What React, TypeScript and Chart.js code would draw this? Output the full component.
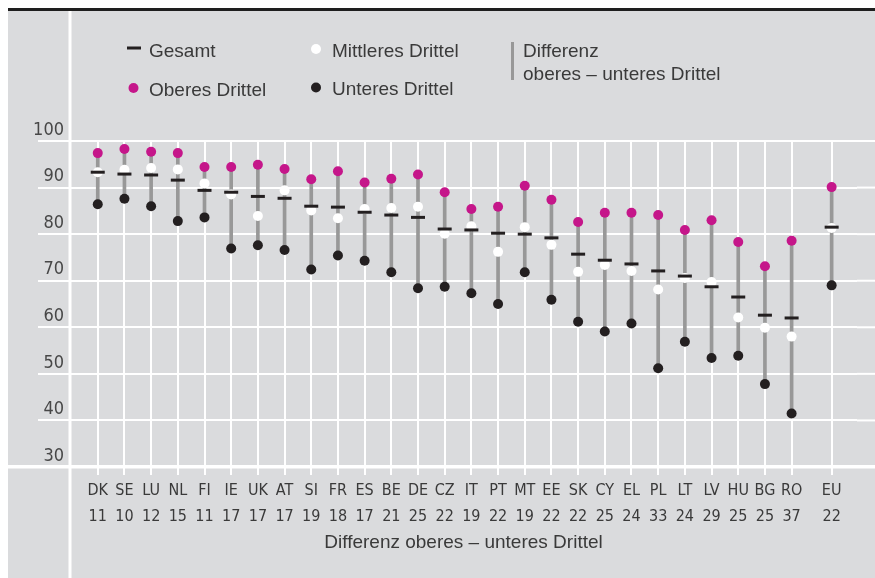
import React, { useEffect, useRef } from 'react';
import { Chart, registerables } from 'chart.js';

Chart.register(...registerables);

const countries = ['DK', 'SE', 'LU', 'NL', 'FI', 'IE', 'UK', 'AT', 'SI', 'FR', 'ES', 'BE', 'DE', 'CZ', 'IT', 'PT', 'MT', 'EE', 'SK', 'CY', 'EL', 'PL', 'LT', 'LV', 'HU', 'BG', 'RO', 'EU'];
const diffLabels = [11, 10, 12, 15, 11, 17, 17, 17, 19, 18, 17, 21, 25, 22, 19, 22, 19, 22, 22, 25, 24, 33, 24, 29, 25, 25, 37, 22];
const xPositions = [0, 1, 2, 3, 4, 5, 6, 7, 8, 9, 10, 11, 12, 13, 14, 15, 16, 17, 18, 19, 20, 21, 22, 23, 24, 25, 26, 27.5];
const oberes = [97.4, 98.3, 97.7, 97.4, 94.4, 94.4, 94.9, 94.0, 91.8, 93.5, 91.1, 91.9, 92.8, 89.0, 85.4, 85.9, 90.4, 87.4, 82.6, 84.6, 84.6, 84.1, 80.9, 83.0, 78.3, 73.1, 78.6, 90.1];
const mittleres = [93.3, 93.8, 94.2, 93.9, 90.9, 88.5, 83.9, 89.4, 85.1, 83.4, 85.4, 85.6, 85.9, 80.1, 81.7, 76.2, 81.5, 77.7, 71.9, 73.4, 72.1, 68.1, 70.6, 69.7, 62.1, 59.9, 58.0, 81.3];
const gesamt = [93.3, 92.9, 92.7, 91.6, 89.4, 89.0, 88.1, 87.7, 86.0, 85.8, 84.7, 84.1, 83.6, 81.1, 80.9, 80.2, 80.0, 79.2, 75.7, 74.4, 73.6, 72.1, 71.0, 68.7, 66.5, 62.6, 62.0, 81.5];
const unteres = [86.4, 87.6, 86.0, 82.8, 83.6, 76.9, 77.6, 76.6, 72.4, 75.4, 74.3, 71.8, 68.4, 68.7, 67.3, 65.0, 71.8, 65.9, 61.2, 59.1, 60.8, 51.2, 56.9, 53.4, 53.9, 47.8, 41.5, 69.0];
const yTicks = [30, 40, 50, 60, 70, 80, 90, 100];

const BG = '#dadbdd';
const MAGENTA = '#c5168a';
const DARK = '#231f20';
const LINEGRAY = '#989898';
const TEXT = '#3a3a3a';
const NARROW = "'Liberation Sans Narrow', 'DejaVu Sans Condensed', sans-serif";
const REGULAR = "'Liberation Sans', Arial, sans-serif";

const decorPlugin = {
  id: 'decor',
  beforeDraw(chart: any) {
    const { ctx, width, height } = chart;
    ctx.save();
    ctx.fillStyle = '#ffffff';
    ctx.fillRect(0, 0, width, height);
    ctx.fillStyle = BG;
    ctx.fillRect(8, 11, width - 8, height - 11);
    ctx.fillStyle = '#1e1e1e';
    ctx.fillRect(8, 8, width - 8, 3);
    ctx.restore();
  },
  beforeDatasetsDraw(chart: any) {
    const { ctx, width, height, chartArea, scales } = chart;
    const y = scales.y;
    ctx.save();
    ctx.fillStyle = '#ffffff';
    ctx.fillRect(chartArea.left - 1.5, 11, 3, height - 11);
    const yb = y.getPixelForValue(30);
    ctx.fillRect(8, yb - 2, width - 8, 3.5);
    for (const t of yTicks) {
      if (t > 30) {
        const py = y.getPixelForValue(t);
        ctx.fillRect(chartArea.right, py - 1, width - chartArea.right, 2);
      }
    }
    ctx.restore();
  },
  afterDraw(chart: any) {
    const { ctx } = chart;
    const dot = (x: number, y: number, c: string) => {
      ctx.beginPath();
      ctx.arc(x, y, 5, 0, Math.PI * 2);
      ctx.fillStyle = c;
      ctx.fill();
    };
    ctx.save();
    ctx.font = `19px ${REGULAR}`;
    ctx.textAlign = 'left';
    ctx.textBaseline = 'alphabetic';
    ctx.fillStyle = DARK;
    ctx.fillRect(127, 46.5, 14, 3);
    ctx.fillStyle = TEXT;
    ctx.fillText('Gesamt', 149, 56.5);
    dot(133.5, 88, MAGENTA);
    ctx.fillStyle = TEXT;
    ctx.fillText('Oberes Drittel', 149, 95.5);
    dot(316, 49, '#ffffff');
    ctx.fillStyle = TEXT;
    ctx.fillText('Mittleres Drittel', 332, 56.5);
    dot(316, 87.5, DARK);
    ctx.fillStyle = TEXT;
    ctx.fillText('Unteres Drittel', 332, 94.5);
    ctx.fillStyle = LINEGRAY;
    ctx.fillRect(511, 42, 3, 38);
    ctx.fillStyle = TEXT;
    ctx.fillText('Differenz', 523, 56.5);
    ctx.fillText('oberes – unteres Drittel', 523, 79.5);
    ctx.restore();
  },
};

export default function App() {
  const ref = useRef<HTMLCanvasElement | null>(null);

  useEffect(() => {
    if (!ref.current) return;
    const pts = (arr: number[]) => arr.map((v, i) => ({ x: xPositions[i], y: v }));
    const chart = new Chart(ref.current, {
      type: 'scatter',
      data: {
        datasets: [
          {
            type: 'bar',
            label: 'Differenz oberes – unteres Drittel',
            data: unteres.map((u, i) => ({ x: xPositions[i], y: [u, oberes[i]] })) as any,
            backgroundColor: LINEGRAY,
            borderWidth: 0,
            barThickness: 3,
            order: 5,
          } as any,
          {
            type: 'scatter',
            label: 'Oberes Drittel',
            data: pts(oberes),
            pointRadius: 5,
            pointBackgroundColor: MAGENTA,
            pointBorderWidth: 0,
            order: 4,
          },
          {
            type: 'scatter',
            label: 'Unteres Drittel',
            data: pts(unteres),
            pointRadius: 5,
            pointBackgroundColor: DARK,
            pointBorderWidth: 0,
            order: 3,
          },
          {
            type: 'scatter',
            label: 'Mittleres Drittel',
            data: pts(mittleres),
            pointRadius: 5,
            pointBackgroundColor: '#ffffff',
            pointBorderWidth: 0,
            order: 2,
          },
          {
            type: 'scatter',
            label: 'Gesamt',
            data: pts(gesamt),
            pointStyle: 'line',
            pointRadius: 7,
            pointBorderWidth: 3,
            pointBorderColor: DARK,
            pointBackgroundColor: DARK,
            order: 1,
          },
        ],
      },
      options: {
        responsive: false,
        animation: false,
        devicePixelRatio: 1,
        events: [],
        layout: { padding: { top: 141, right: 18, bottom: 0, left: 0 } },
        plugins: {
          legend: { display: false },
          tooltip: { enabled: false },
        },
        scales: {
          x: {
            type: 'linear',
            min: -1.04,
            max: 28.45,
            offset: false,
            grid: { color: '#ffffff', lineWidth: 2, drawTicks: true, tickLength: 8, offset: false },
            border: { display: false },
            afterBuildTicks: (s: any) => {
              s.ticks = xPositions.map((v) => ({ value: v }));
            },
            afterFit: (s: any) => {
              s.height = 111;
            },
            ticks: {
              autoSkip: false,
              maxRotation: 0,
              minRotation: 0,
              padding: 3,
              color: TEXT,
              font: { family: NARROW, size: 16, lineHeight: 1.625 },
              callback: (_v: any, i: number) => [countries[i], String(diffLabels[i])],
            },
            title: {
              display: true,
              text: 'Differenz oberes – unteres Drittel',
              color: TEXT,
              font: { family: REGULAR, size: 19, lineHeight: 1.2 },
              padding: { top: 0, bottom: 24 },
            },
          } as any,
          y: {
            type: 'linear',
            min: 30,
            max: 100,
            afterBuildTicks: (s: any) => {
              s.ticks = yTicks.map((v) => ({ value: v }));
            },
            afterFit: (s: any) => {
              s.width = 70;
            },
            grid: {
              color: (c: any) => (c.tick && c.tick.value === 30 ? 'rgba(0,0,0,0)' : '#ffffff'),
              lineWidth: 2,
              drawTicks: true,
              tickLength: 32,
            },
            border: { display: false },
            ticks: {
              autoSkip: false,
              padding: -26,
              labelOffset: -11,
              color: '#474747',
              font: { family: NARROW, size: 18 },
            },
          } as any,
        },
      },
      plugins: [decorPlugin],
    });
    return () => chart.destroy();
  }, []);

  return (
    <div style={{ position: 'absolute', left: 0, top: 0, width: 875, height: 578 }}>
      <canvas ref={ref} width={875} height={578} style={{ display: 'block', width: 875, height: 578 }} />
    </div>
  );
}
